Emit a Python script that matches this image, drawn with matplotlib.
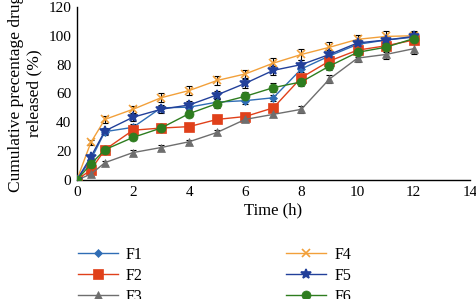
import matplotlib
matplotlib.use("Agg")
import matplotlib.pyplot as plt

plt.rcParams['font.family'] = ['Liberation Serif', 'DejaVu Serif']

time = [0, 0.5, 1, 2, 3, 4, 5, 6, 7, 8, 9, 10, 11, 12]
F1 = [0, 14, 33.5, 36.5, 50, 50.5, 54, 55, 57, 77, 86, 94, 97, 99]
F2 = [0, 7, 21, 34.5, 36, 37, 42, 44, 50, 71, 82.5, 90, 93, 97]
F3 = [0, 4, 12, 19, 22.5, 26.5, 33, 42, 45.5, 49, 70, 84.5, 87, 91]
F4 = [0, 26, 42, 49, 57, 62, 69, 73.5, 81, 87, 92, 97.5, 99.5, 100]
F5 = [0, 16, 34, 43.5, 49, 52, 59, 67, 76, 80, 87, 95, 97, 99.5]
F6 = [0, 11, 21, 29.5, 36, 46, 53, 58, 64, 68, 79, 88.5, 92, 98]
E1 = [0, 1.5, 2, 2, 2, 2, 2, 2, 2, 2, 3, 3, 3, 3]
E2 = [0, 1, 1.5, 2, 2, 2, 2, 2, 2, 2, 3, 3, 3, 3]
E3 = [0, 1, 1.5, 1.5, 1.5, 1.5, 1.5, 2, 2, 2.5, 3, 3, 3, 3.5]
E4 = [0, 2, 2.5, 2.5, 3, 3, 3, 3, 3.5, 3.5, 4, 3, 3.5, 3]
E5 = [0, 1.5, 2, 2.5, 2.5, 2.5, 2.5, 3, 3, 3, 3, 3, 3, 3]
E6 = [0, 1.5, 2, 2, 2, 2, 3, 3, 3, 3, 3, 3, 3, 3]
labels = ['F1', 'F2', 'F3', 'F4', 'F5', 'F6']

series = [F1, F2, F3, F4, F5, F6]
errs = [E1, E2, E3, E4, E5, E6]
colors = ['#2F6DB5', '#E0401A', '#6E6E6E', '#F2A03A', '#22409A', '#2E7D1F']
markers = ['D', 's', '^', 'x', '*', 'o']
msizes = [4, 7, 6, 6, 7, 6.5]

fig = plt.figure(figsize=(4.77, 2.99), dpi=100)
ax = fig.add_axes([0.161, 0.398, 0.824, 0.579])

handles = []
for y, e, c, m, ms, lab in zip(series, errs, colors, markers, msizes, labels):
    ax.errorbar(time, y, yerr=e, fmt='none', ecolor='black', elinewidth=0.8,
                capsize=2.5, capthick=0.8, zorder=2)
    h, = ax.plot(time, y, color=c, marker=m, markersize=ms, linewidth=1.0,
                 markeredgewidth=1.2 if m in ('x', '*') else 0.5, markeredgecolor=c,
                 label=lab, zorder=3)
    handles.append(h)

ax.set_xlim(0, 14)
ax.set_ylim(0, 120)
ax.set_xticks(range(0, 15, 2))
ax.set_yticks(range(0, 121, 20))
ax.tick_params(length=0, labelsize=11, pad=4)
for s in ['top', 'right']:
    ax.spines[s].set_visible(False)
for s in ['left', 'bottom']:
    ax.spines[s].set_linewidth(1.0)
ax.set_xlabel('Time (h)', fontsize=12, labelpad=3)
ax.set_ylabel('Cumulative precentage drug\nreleased (%)', fontsize=12.5, labelpad=4,
              linespacing=1.2)

fig.legend(handles=handles, labels=labels, loc='upper left',
           bbox_to_anchor=(0.15, 0.195), ncol=2, frameon=False,
           fontsize=11.5, columnspacing=9.0, handlelength=2.5,
           labelspacing=0.3, handletextpad=0.5, borderaxespad=0)

fig.savefig('out.png', dpi=100)
